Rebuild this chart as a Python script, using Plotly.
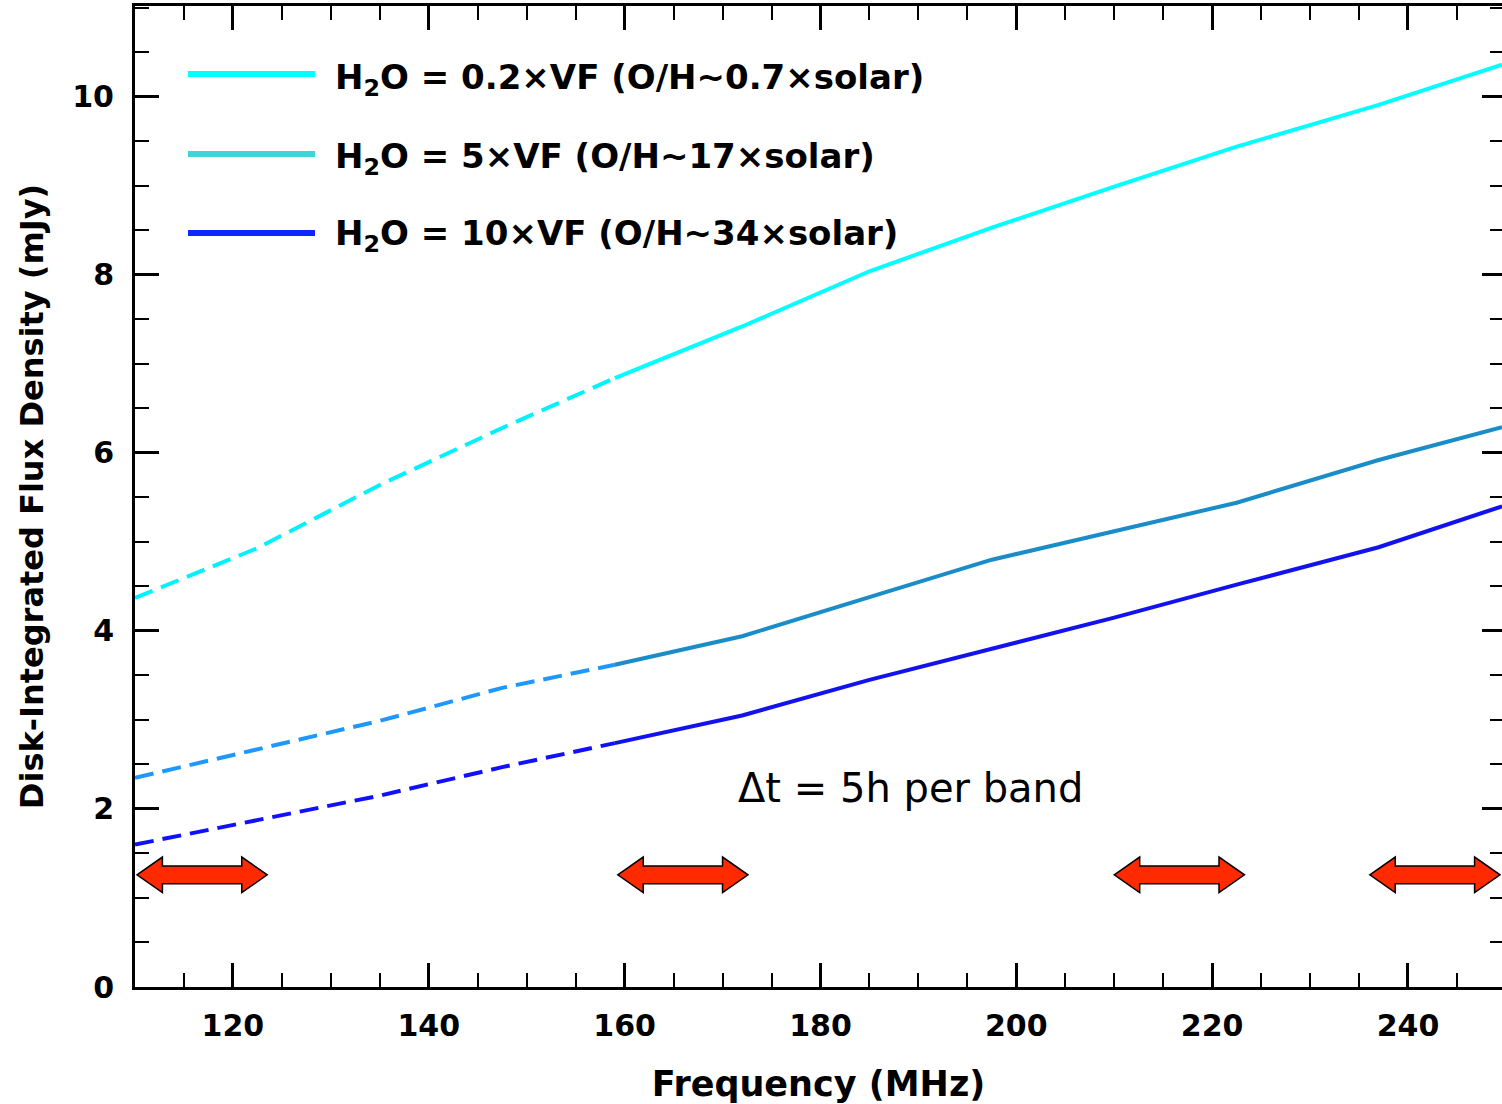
import plotly.graph_objects as go

# ---------------- data ----------------
freq = [110, 122.5, 135, 147.5, 159, 172, 185, 197.5, 210, 222.5, 237, 249.6]
flux_02vf = [4.37, 4.93, 5.64, 6.28, 6.84, 7.42, 8.04, 8.53, 8.99, 9.44, 9.91, 10.36]
flux_5vf = [2.35, 2.67, 2.99, 3.36, 3.62, 3.94, 4.38, 4.80, 5.12, 5.44, 5.92, 6.29]
flux_10vf = [1.60, 1.88, 2.15, 2.47, 2.74, 3.05, 3.45, 3.80, 4.15, 4.52, 4.94, 5.40]
dash_limit = 159  # dashed below this frequency, solid above

series_names = [
    "H<sub>2</sub>O = 0.2×VF (O/H~0.7×solar)",
    "H<sub>2</sub>O = 5×VF (O/H~17×solar)",
    "H<sub>2</sub>O = 10×VF (O/H~34×solar)",
]
series_values = [flux_02vf, flux_5vf, flux_10vf]
solid_colors = ["#00ffff", "#1a8cc8", "#1212ee"]
dash_colors = ["#00f2ff", "#1e98ff", "#1010ff"]
legend_colors = ["#00ffff", "#3dd6d6", "#0a28ff"]

# observing bands (MHz), drawn as double arrows
bands = [(110.2, 123.5), (159.3, 172.6), (210.0, 223.3), (236.1, 249.4)]
band_level = 1.26

x_ticks = [120, 140, 160, 180, 200, 220, 240]
y_ticks = [0, 2, 4, 6, 8, 10]

FONT = "DejaVu Sans"

fig = go.Figure()

for name, vals, sc, dc in zip(series_names, series_values, solid_colors, dash_colors):
    xd = [f for f in freq if f <= dash_limit]
    yd = [v for f, v in zip(freq, vals) if f <= dash_limit]
    xs = [f for f in freq if f >= dash_limit]
    ys = [v for f, v in zip(freq, vals) if f >= dash_limit]
    fig.add_trace(go.Scatter(x=xd, y=yd, mode="lines", name=name, showlegend=False,
                             line=dict(color=dc, width=4, dash="19px,9px")))
    fig.add_trace(go.Scatter(x=xs, y=ys, mode="lines", name=name, showlegend=False,
                             line=dict(color=sc, width=4)))

# dummy trace for the right-hand tick axis
fig.add_trace(go.Scatter(x=[None], y=[None], yaxis="y2", showlegend=False, hoverinfo="skip"))

# arrows for bands
head_len = 2.6
shaft_h = 0.10
head_h = 0.20
for a, b in bands:
    y0 = band_level
    path = (f"M {a},{y0} L {a + head_len},{y0 + head_h} L {a + head_len},{y0 + shaft_h} "
            f"L {b - head_len},{y0 + shaft_h} L {b - head_len},{y0 + head_h} L {b},{y0} "
            f"L {b - head_len},{y0 - head_h} L {b - head_len},{y0 - shaft_h} "
            f"L {a + head_len},{y0 - shaft_h} L {a + head_len},{y0 - head_h} Z")
    fig.add_shape(type="path", path=path, xref="x", yref="y",
                  fillcolor="#ff2a00", line=dict(color="black", width=1.5), layer="above")

# manual legend
W, H = 1502, 1104
ML, MR, MT, MB = 135, 0, 6, 117
pw, ph = W - ML - MR, H - MT - MB


def px(xp):
    return (xp - ML) / pw


def py(yp):
    return (H - MB - yp) / ph


legend_y = [74, 154, 233]
text_off = [6, 4, 3]
for name, col, ly, off in zip(series_names, legend_colors, legend_y, text_off):
    fig.add_shape(type="line", xref="paper", yref="paper",
                  x0=px(188), x1=px(315), y0=py(ly), y1=py(ly),
                  line=dict(color=col, width=6))
    fig.add_annotation(text=name, xref="paper", yref="paper", x=px(333), y=py(ly + off),
                       xanchor="left", yanchor="middle", showarrow=False,
                       font=dict(family=FONT, size=34, color="black", weight="bold"))

fig.add_annotation(text="Δt = 5h per band", xref="x", yref="y", x=189.2, y=2.24,
                   xanchor="center", yanchor="middle", showarrow=False,
                   font=dict(family=FONT, size=40, color="black"))

fig.update_layout(
    width=W, height=H,
    margin=dict(l=ML, r=MR, t=MT, b=MB, pad=0),
    paper_bgcolor="white", plot_bgcolor="white",
    font=dict(family=FONT, color="black"),
    xaxis=dict(
        range=[110, 249.6], tickvals=x_ticks, ticks="inside", ticklen=24, tickwidth=3,
        tickcolor="black", showline=True, linewidth=3, linecolor="black", mirror="ticks",
        showgrid=False, zeroline=False, ticklabelstandoff=10,
        tickfont=dict(family=FONT, size=30, weight="bold"),
        minor=dict(dtick=5, tick0=110, ticks="inside", ticklen=14, tickwidth=2,
                   tickcolor="black", showgrid=False),
        title=dict(text="Frequency (MHz)", standoff=30,
                   font=dict(family=FONT, size=35, weight="bold")),
    ),
    yaxis=dict(
        range=[0, 11.02], tickvals=y_ticks, ticks="inside", ticklen=24, tickwidth=3,
        tickcolor="black", showline=True, linewidth=3, linecolor="black",
        showgrid=False, zeroline=False, ticklabelstandoff=12,
        tickfont=dict(family=FONT, size=30, weight="bold"),
        minor=dict(dtick=0.5, tick0=0, ticks="inside", ticklen=14, tickwidth=2,
                   tickcolor="black", showgrid=False),
        title=dict(text="Disk-Integrated Flux Density (mJy)", standoff=20,
                   font=dict(family=FONT, size=32, weight="bold")),
    ),
    yaxis2=dict(
        range=[0, 11.02], tickvals=y_ticks, overlaying="y", side="right",
        ticks="inside", ticklen=20, tickwidth=3, tickcolor="black",
        showline=False, showgrid=False, zeroline=False, showticklabels=False,
        minor=dict(dtick=0.5, tick0=0, ticks="inside", ticklen=12, tickwidth=2,
                   tickcolor="black", showgrid=False),
    ),
)

fig.write_html("out.html")
